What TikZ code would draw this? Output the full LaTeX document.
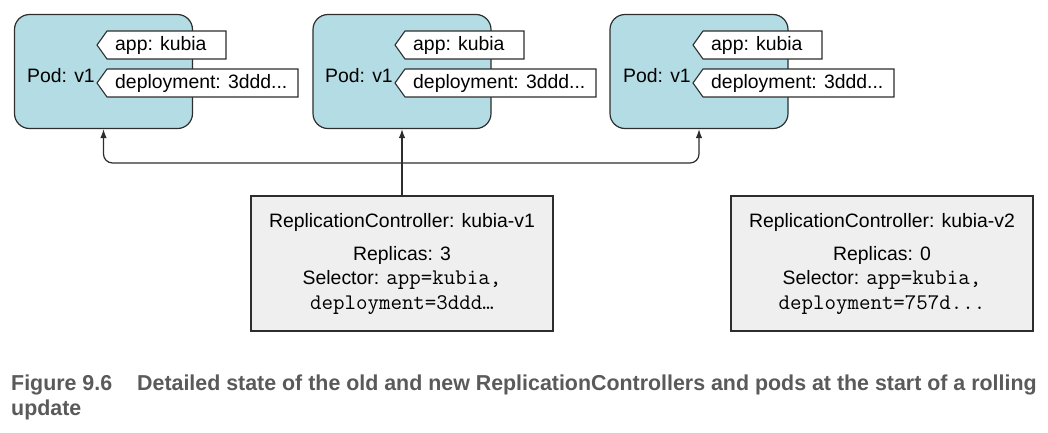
\documentclass[tikz,border=0pt]{standalone}
\usepackage{fontspec}
\setmainfont{Liberation Sans}
\newfontfamily\capf[FakeStretch=0.99]{Liberation Sans}
\usetikzlibrary{arrows.meta}
\definecolor{podblue}{RGB}{180,220,228}
\definecolor{rcgray}{RGB}{239,239,239}
\definecolor{edgec}{RGB}{45,45,45}
\definecolor{capgray}{RGB}{90,90,90}
\tikzset{
  pod/.style={draw=edgec, line width=1.2pt, fill=podblue, rounded corners=15pt,
    minimum width=178pt, minimum height=114pt, inner sep=0pt},
  rcbox/.style={draw=edgec, line width=1.2pt, fill=rcgray, minimum width=302pt,
    minimum height=135pt, inner sep=0pt},
  txt/.style={font=\fontsize{19.4}{22}\selectfont, inner sep=0pt, text=black},
  tag/.style={draw=edgec, line width=1.1pt, fill=white},
  conn/.style={draw=edgec, line width=1.2pt, -{Latex[length=9pt,width=6.5pt]}},
  captext/.style={font=\capf\bfseries\fontsize{21.6}{24}\selectfont, text=capgray, inner sep=0pt, anchor=base west}
}
\newcommand{\monotxt}{\ttfamily\fontsize{22.3}{24}\selectfont}
\newcommand{\podtags}[3]{%
  \draw[tag] (#2,45) -- (#2+10,31) -- (#2+129,31) -- (#2+129,59) -- (#2+10,59) -- cycle;
  \node[txt, anchor=west] (#3a) at (#2+18,45.5) {app: kubia};
  \draw[tag] (#2,83) -- (#2+10,69) -- (#2+201,69) -- (#2+201,97) -- (#2+10,97) -- cycle;
  \node[txt, anchor=west] (#3d) at (#2+18,83.5) {deployment: 3ddd...};
  \node[txt, anchor=west] (#3l) at (#2-70,76) {Pod: v1};
}
\begin{document}
\begin{tikzpicture}[x=1pt,y=-1pt]
\useasboundingbox (0,0) rectangle (1048,432);
\node[pod] (p1) at (103.5,71.5) {};
\node[pod] (p2) at (402,71.5) {};
\node[pod] (p3) at (699,71.5) {};
\podtags{p1}{97}{a}
\podtags{p2}{395}{b}
\podtags{p3}{693}{c}

\node[rcbox] (rc1) at (402,263.5) {};
\node[rcbox] (rc2) at (882,263.5) {};
\node[txt] (rc1t) at (402,222) {ReplicationController: kubia-v1};
\node[txt] (rc1r) at (402,255) {Replicas: 3};
\node[txt] (rc1s) at (402,280) {Selector: {\monotxt app=kubia,}};
\node[txt] (rc1d) at (402,305) {\monotxt deployment=3ddd\ldots};
\node[txt] (rc2t) at (882,222) {ReplicationController: kubia-v2};
\node[txt] (rc2r) at (882,255) {Replicas: 0};
\node[txt] (rc2s) at (882,280) {Selector: {\monotxt app=kubia,}};
\node[txt] (rc2d) at (882,305) {\monotxt deployment=757d...};

\coordinate (hl) at (103.5,163);
\draw[conn] (rc1.north) -- (p2.south);
\draw[draw=edgec, line width=1.2pt, {Latex[length=9pt,width=6.5pt]}-{Latex[length=9pt,width=6.5pt]}, rounded corners=9pt]
  (p1.south) -- (hl) -| (p3.south);

\node[captext] (cap1) at (11,390) {Figure 9.6\hspace{25pt}Detailed state of the old and new ReplicationControllers and pods at the start of a rolling};
\node[captext] (cap2) at (11,415) {update};
\end{tikzpicture}
\end{document}
